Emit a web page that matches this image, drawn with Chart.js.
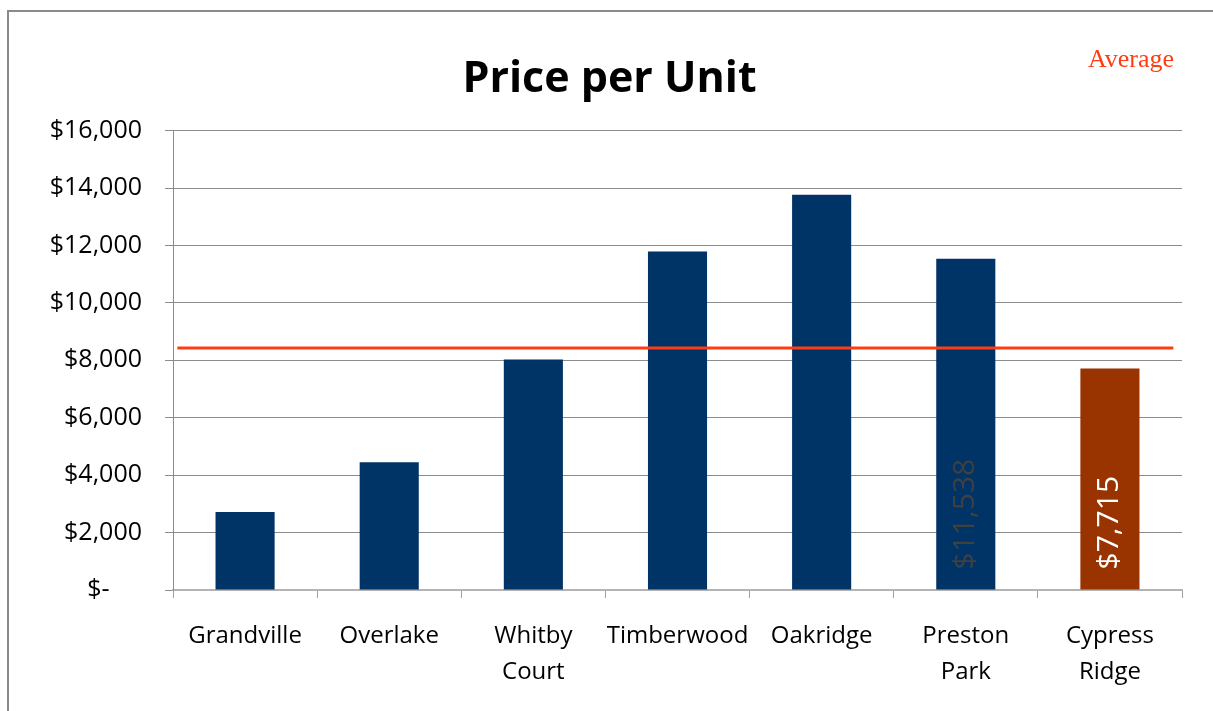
<!DOCTYPE html>
<html>
<head>
<meta charset="utf-8">
<title>Price per Unit</title>
<script src="https://cdn.jsdelivr.net/npm/chart.js@4"></script>
<style>
  html, body { margin: 0; padding: 0; background: #fff; }
  #wrap { position: relative; width: 1213px; height: 711px; overflow: hidden; }
  #frame { position: absolute; left: 7px; top: 10px; width: 1240px; height: 740px;
           border-left: 2px solid #8a8a8a; border-top: 2px solid #8a8a8a; pointer-events: none; }
  #avgKey { position: absolute; right: 39px; top: 44px; font: 26px "Liberation Serif", serif; color: #ff3d12; }
</style>
</head>
<body>
<div id="wrap">
  <canvas id="priceChart" width="1213" height="711"></canvas>
  <div id="frame"></div>
  <div id="avgKey">Average</div>
</div>
<script>
  // values
  const categories = ['Grandville', 'Overlake', ['Whitby', 'Court'], 'Timberwood', 'Oakridge', ['Preston', 'Park'], ['Cypress', 'Ridge']];
  const prices = [2720, 4450, 8030, 11785, 13770, 11538, 7715];
  const barColors = ['#003366', '#003366', '#003366', '#003366', '#003366', '#003366', '#993300'];
  const averagePrice = 8430;
  const averageSpan = [0.03, 6.94]; // in category units along the axis
  const labelledBars = [5, 6];
  const labelColors = { 5: '#404040', 6: '#ffffff' };
  const yMin = 0, yMax = 16000, yStep = 2000;

  const money = (v) => (v === 0 ? '$-     ' : '$' + Number(v).toLocaleString('en-US'));

  const barLabels = {
    id: 'barLabels',
    afterDatasetsDraw(chart) {
      const meta = chart.getDatasetMeta(0);
      const ctx = chart.ctx;
      ctx.save();
      ctx.font = '30px "Open Sans", sans-serif';
      ctx.textAlign = 'left';
      ctx.textBaseline = 'middle';
      labelledBars.forEach((i) => {
        const bar = meta.data[i];
        ctx.save();
        ctx.translate(bar.x, bar.base - 20);
        ctx.rotate(-Math.PI / 2);
        ctx.fillStyle = labelColors[i];
        ctx.fillText(money(prices[i]), 0, 0);
        ctx.restore();
      });
      ctx.restore();
    },
  };

  new Chart(document.getElementById('priceChart'), {
    type: 'bar',
    data: {
      labels: categories,
      datasets: [
        {
          type: 'bar',
          label: 'Price per Unit',
          data: prices,
          backgroundColor: barColors,
          barPercentage: 0.41,
          categoryPercentage: 1,
          grouped: false,
          order: 2,
        },
        {
          type: 'line',
          label: 'Average',
          xAxisID: 'xAvg',
          data: averageSpan.map((x) => ({ x, y: averagePrice })),
          borderColor: '#ff3d12',
          borderWidth: 3,
          pointRadius: 0,
          order: 1,
        },
      ],
    },
    options: {
      responsive: false,
      animation: false,
      layout: { padding: { top: 54, right: 0, bottom: 0, left: 6 } },
      plugins: {
        legend: { display: false },
        tooltip: { enabled: false },
        title: {
          display: true,
          text: 'Price per Unit',
          color: '#000',
          font: { family: 'Open Sans', size: 43, weight: 'bold' },
          padding: { top: 0, bottom: 25 },
        },
      },
      scales: {
        x: {
          type: 'category',
          offset: true,
          grid: { offset: true, drawOnChartArea: false, drawTicks: true, tickLength: 8, color: '#a0a0a0' },
          border: { color: '#b4b4b4', width: 2 },
          ticks: {
            color: '#000',
            font: { family: 'Open Sans', size: 24, lineHeight: 1.5 },
            padding: 20,
            maxRotation: 0,
            autoSkip: false,
          },
          afterFit: (s) => { s.height = 121; },
        },
        xAvg: {
          type: 'linear',
          display: false,
          offset: false,
          min: 0,
          max: categories.length,
        },
        y: {
          min: yMin,
          max: yMax,
          grid: { color: '#8c8c8c', tickLength: 8 },
          border: { color: '#8c8c8c' },
          ticks: {
            stepSize: yStep,
            color: '#000',
            font: { family: 'Open Sans', size: 25 },
            padding: 23,
            callback: (v) => money(v),
          },
          afterFit: (s) => { s.width = 167; },
        },
        yGap: {
          position: 'right',
          min: yMin,
          max: yMax,
          grid: { display: false },
          border: { display: false },
          ticks: { display: false },
          afterFit: (s) => { s.width = 31; },
        },
      },
    },
    plugins: [barLabels],
  });
</script>
</body>
</html>
